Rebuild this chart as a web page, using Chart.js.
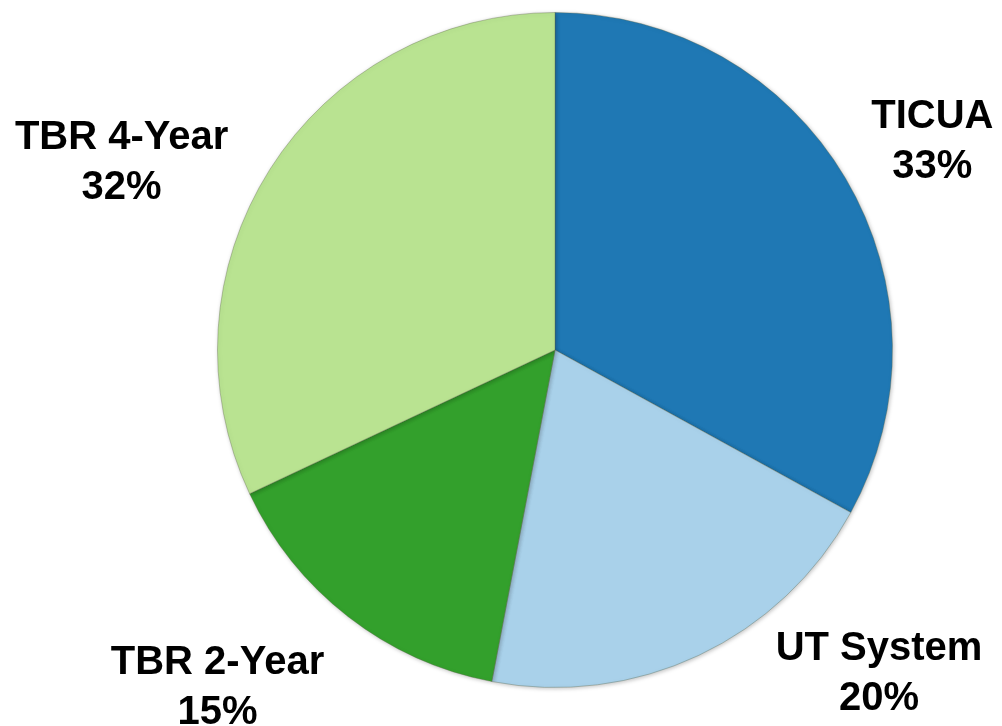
<!DOCTYPE html>
<html>
<head>
<meta charset="utf-8">
<script src="https://cdn.jsdelivr.net/npm/chart.js@4/dist/chart.umd.min.js"></script>
<style>
  html, body { margin: 0; padding: 0; background: #ffffff; }
  #wrap { width: 1002px; height: 726px; }
</style>
</head>
<body>
<div id="wrap"><canvas id="chart" width="1002" height="726"></canvas></div>
<script>
// Share by sector (percent)
const sectors = ['TICUA', 'UT System', 'TBR 2-Year', 'TBR 4-Year'];
const shares = [33, 20, 15, 32];

// ColorBrewer "Paired" style palette
const sliceColors = ['#1f78b4', '#a9d1ea', '#33a02c', '#b9e391'];

// Label anchors, relative to the pie centre in units of the radius
const labelAnchors = [
  [1.118, -0.615],
  [0.96, 0.96],
  [-1.0, 1.0],
  [-1.284, -0.553]
];

const outsideLabels = {
  id: 'outsideLabels',
  afterDatasetsDraw(chart) {
    const ctx = chart.ctx;
    const arcs = chart.getDatasetMeta(0).data;
    ctx.save();
    ctx.fillStyle = '#000000';
    ctx.font = 'bold 40px "Liberation Sans", Arial, sans-serif';
    ctx.textAlign = 'center';
    ctx.textBaseline = 'middle';
    arcs.forEach((arc, i) => {
      const r = arc.outerRadius;
      const x = arc.x + labelAnchors[i][0] * r;
      const y = arc.y + labelAnchors[i][1] * r;
      ctx.fillText(sectors[i], x, y - 25);
      ctx.fillText(shares[i] + '%', x, y + 25);
    });
    ctx.restore();
  }
};

// soft shadow under the pie, like the original slide
const pieShadow = {
  id: 'pieShadow',
  beforeDatasetsDraw(chart) {
    const ctx = chart.ctx;
    ctx.save();
    ctx.shadowColor = 'rgba(0, 0, 0, 0.25)';
    ctx.shadowBlur = 4;
    ctx.shadowOffsetX = 1;
    ctx.shadowOffsetY = 1;
  },
  afterDatasetsDraw(chart) {
    chart.ctx.restore();
  }
};

new Chart(document.getElementById('chart'), {
  type: 'pie',
  data: {
    labels: sectors,
    datasets: [{
      data: shares,
      backgroundColor: sliceColors,
      borderColor: 'rgba(90, 100, 70, 0.35)',
      borderWidth: 1,
      hoverOffset: 0,
      offset: 0
    }]
  },
  options: {
    responsive: false,
    animation: false,
    layout: { padding: { top: 12, bottom: 38, left: 217, right: 109 } },
    plugins: {
      legend: { display: false },
      tooltip: { enabled: false }
    }
  },
  plugins: [pieShadow, outsideLabels]
});
</script>
</body>
</html>
